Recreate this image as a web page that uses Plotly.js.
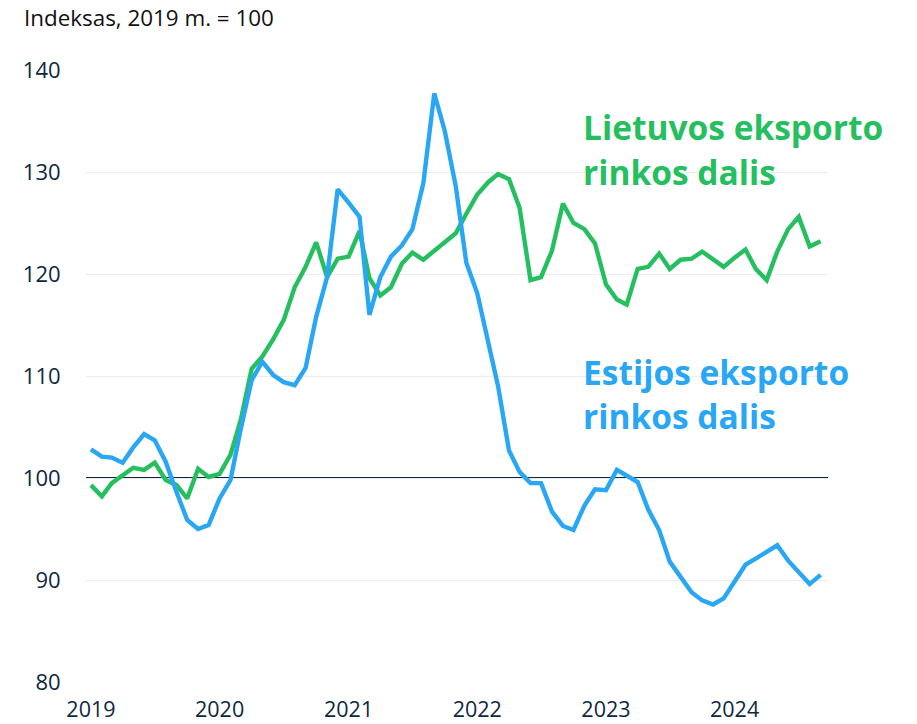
<!DOCTYPE html>
<html>
<head>
<meta charset="utf-8">
<script src="https://cdn.plot.ly/plotly-3.0.1.min.js"></script>
<style>html,body{margin:0;padding:0;background:#fff;}#chart{width:917px;height:724px;}</style>
</head>
<body>
<div id="chart"></div>
<script>
// Monthly data, January 2019 – September 2024
const startYear = 2019;
const nMonths = 69;
const estija = [102.8,102.1,102.0,101.5,103.0,104.3,103.7,101.6,98.6,95.9,95.0,95.4,
  98.0,99.8,104.8,109.6,111.4,110.1,109.4,109.1,110.8,115.8,119.7,128.3,
  127.0,125.6,116.0,119.7,121.7,122.8,124.4,128.9,137.7,134.0,128.6,121.1,
  118.1,113.5,109.0,102.7,100.6,99.5,99.5,96.7,95.3,94.9,97.3,98.9,
  98.8,100.8,100.2,99.6,96.9,94.9,91.8,90.3,88.8,88.0,87.6,88.2,
  89.8,91.5,92.1,92.8,93.4,91.9,90.7,89.6,90.5];
const lietuva = [99.3,98.2,99.5,100.3,101.0,100.8,101.5,99.8,99.3,98.0,100.9,100.1,
  100.4,102.3,105.7,110.7,111.9,113.6,115.5,118.7,120.7,123.1,119.7,121.5,
  121.7,124.2,119.6,117.9,118.7,121.0,122.1,121.4,122.3,123.1,124.0,125.9,
  127.8,129.0,129.8,129.3,126.5,119.4,119.7,122.3,126.9,125.0,124.4,123.0,
  119.0,117.5,117.0,120.5,120.7,122.0,120.5,121.4,121.5,122.2,121.4,120.7,
  121.6,122.4,120.5,119.4,122.2,124.4,125.6,122.7,123.2];
const yTicks = [80, 90, 100, 110, 120, 130, 140];
const labelLt = ['Lietuvos eksporto', 'rinkos dalis'];
const labelEe = ['Estijos eksporto', 'rinkos dalis'];
const titleText = 'Indeksas, 2019 m. = 100';

const months = [];
for (let i = 0; i < nMonths; i++) {
  const y = startYear + Math.floor(i / 12);
  const m = (i % 12) + 1;
  months.push(y + '-' + String(m).padStart(2, '0') + '-01');
}

const green = '#25bf5f';
const blue = '#29a6f4';
const navy = '#0e2841';

const traces = [
  {x: months, y: lietuva, type: 'scatter', mode: 'lines', name: 'Lietuva',
   line: {color: green, width: 4.4}, hoverinfo: 'skip'},
  {x: months, y: estija, type: 'scatter', mode: 'lines', name: 'Estija',
   line: {color: blue, width: 4.4}, hoverinfo: 'skip'}
];

function lab(text, px, py, color) {
  return {text: text, xref: 'paper', yref: 'paper',
    x: (px - 86) / 742, y: (682 - py) / 612, xanchor: 'left', yanchor: 'middle',
    showarrow: false, font: {family: 'Open Sans', size: 33.5, color: color, weight: 700}};
}

const layout = {
  width: 917, height: 724,
  margin: {l: 86, r: 89, t: 70, b: 42},
  paper_bgcolor: '#fff', plot_bgcolor: '#fff',
  showlegend: false,
  font: {family: 'Open Sans', color: navy},
  title: {text: titleText, xref: 'container', yref: 'container',
    x: 24 / 917, xanchor: 'left', y: 1 - 18 / 724, yanchor: 'middle',
    font: {family: 'Open Sans', size: 22.4, color: '#111'}},
  xaxis: {type: 'date', range: ['2018-12-18', '2024-09-22'],
    dtick: 'M12', tick0: '2019-01-01', tickformat: '%Y',
    showgrid: false, zeroline: false, showline: false,
    ticks: 'outside', ticklen: 8, tickcolor: 'rgba(0,0,0,0)',
    tickfont: {family: 'Open Sans', size: 21.5, color: navy}},
  yaxis: {range: [80, 140], tickvals: yTicks, ticktext: yTicks.map(String),
    showgrid: true, gridcolor: '#ececec', gridwidth: 1,
    zeroline: false, showline: false,
    ticks: 'outside', ticklen: 20, tickcolor: 'rgba(0,0,0,0)',
    tickfont: {family: 'Open Sans', size: 22, color: navy}},
  shapes: [{type: 'line', xref: 'paper', yref: 'y', x0: 0, x1: 1, y0: 100, y1: 100,
    line: {color: navy, width: 2}, layer: 'below'}],
  annotations: [
    lab(labelLt[0], 581, 127, green),
    lab(labelLt[1], 581, 172, green),
    lab(labelEe[0], 581, 372, blue),
    lab(labelEe[1], 581, 416, blue)
  ]
};

Plotly.newPlot('chart', traces, layout, {displayModeBar: false, staticPlot: true});
</script>
</body>
</html>
